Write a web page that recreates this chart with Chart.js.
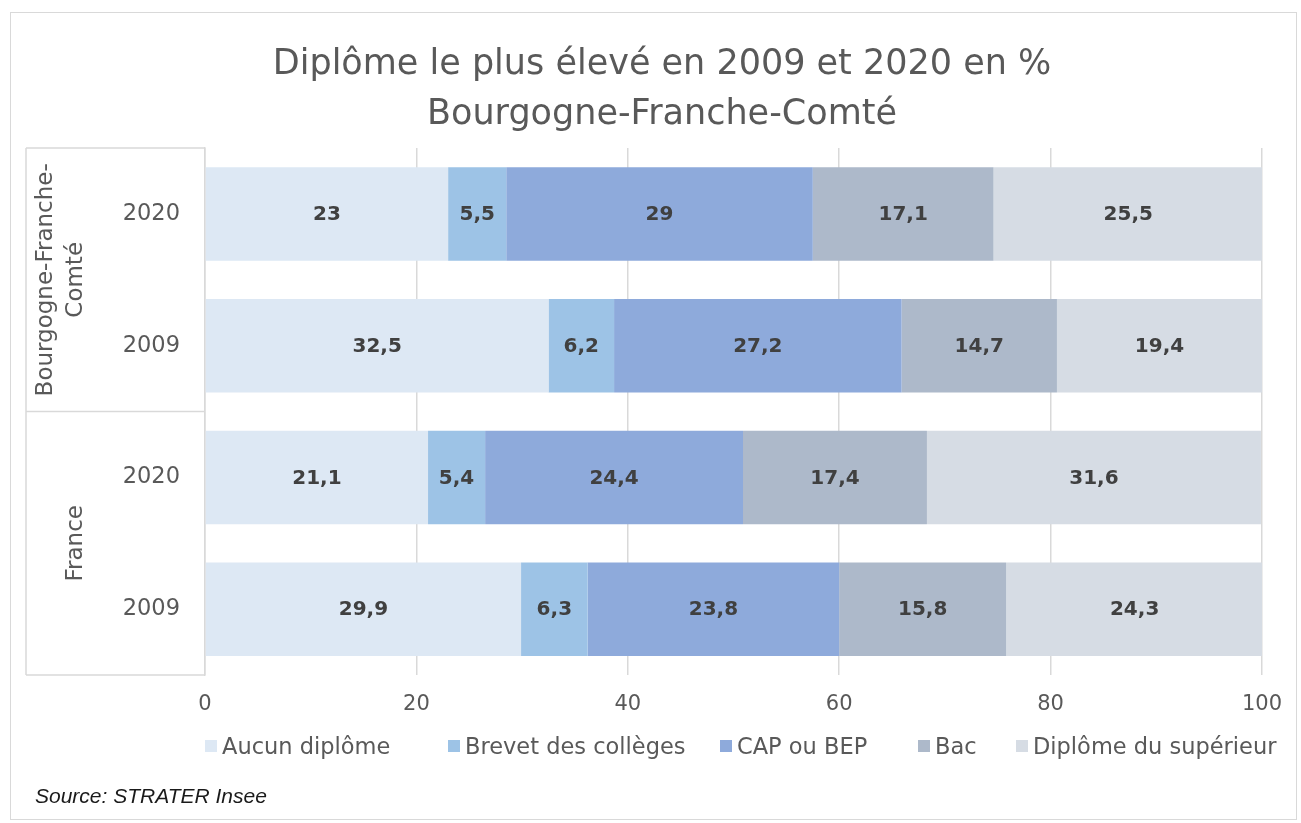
<!DOCTYPE html>
<html lang="fr">
<head>
<meta charset="utf-8">
<title>Diplôme le plus élevé en 2009 et 2020</title>
<script src="https://cdn.jsdelivr.net/npm/chart.js@4.4.1/dist/chart.umd.min.js"></script>
<style>
    html, body { margin: 0; padding: 0; background: #fff; }
    #wrap { position: relative; width: 1301px; height: 823px; overflow: hidden; }
    #frame { position: absolute; left: 10px; top: 12px; width: 1287px; height: 808px; border: 1.5px solid #d9d9d9; box-sizing: border-box; }
    #chart { position: absolute; left: 0; top: 0; }
    .leg { position: absolute; top: 733px; font: 22.5px "DejaVu Sans", sans-serif; color: #595959; white-space: nowrap; }
    .leg i { display: inline-block; width: 12px; height: 12px; margin-right: 5px; vertical-align: 2px; }
    #source { position: absolute; left: 35px; top: 784px; font: italic 21px "Liberation Sans", sans-serif; color: #1a1a1a; }
</style>
</head>
<body>
<div id="wrap">
    <div id="frame"></div>
    <canvas id="chart" width="1301" height="823"></canvas>
    <div id="legend"></div>
    <div id="source">Source: STRATER Insee</div>
</div>
<script>
// Données
const years = ['2020', '2009', '2020', '2009'];
const groups = [['Bourgogne-Franche-', 'Comté'], ['France']];
const seriesNames = ['Aucun diplôme', 'Brevet des collèges', 'CAP ou BEP', 'Bac', 'Diplôme du supérieur'];
const aucunDiplome = [23, 32.5, 21.1, 29.9];
const brevet = [5.5, 6.2, 5.4, 6.3];
const capBep = [29, 27.2, 24.4, 23.8];
const bac = [17.1, 14.7, 17.4, 15.8];
const superieur = [25.5, 19.4, 31.6, 24.3];
const xTicks = [0, 20, 40, 60, 80, 100];

const colors = ['#dde8f4', '#9dc3e6', '#8eaadb', '#adb9ca', '#d6dce4'];
const legendLeft = [205, 448, 720, 918, 1016];
const txtColor = '#595959';
const font = '"DejaVu Sans", sans-serif';

/**
 * Format décimal à la française
 */
function formatValue(v) {
    return String(v).replace('.', ',');
}

// Étiquettes de valeur au centre des barres
const valueLabels = {
    id: 'valueLabels',
    afterDatasetsDraw(chart) {
        const ctx = chart.ctx;
        ctx.save();
        ctx.font = 'bold 20px ' + font;
        ctx.fillStyle = '#404040';
        ctx.textAlign = 'center';
        ctx.textBaseline = 'middle';
        chart.data.datasets.forEach((ds, i) => {
            chart.getDatasetMeta(i).data.forEach((bar, j) => {
                ctx.fillText(formatValue(ds.data[j]), (bar.x + bar.base) / 2, bar.y + 1);
            });
        });
        ctx.restore();
    }
};

// Axe à deux niveaux (territoire / année)
const groupAxis = {
    id: 'groupAxis',
    afterDraw(chart) {
        const ctx = chart.ctx;
        const y = chart.scales.y;
        const area = chart.chartArea;
        const x0 = 26;
        const mid = (y.getPixelForValue(1) + y.getPixelForValue(2)) / 2;
        ctx.save();
        ctx.strokeStyle = '#d9d9d9';
        ctx.lineWidth = 1.5;
        ctx.beginPath();
        [area.top, mid, area.bottom].forEach(py => {
            ctx.moveTo(x0, py);
            ctx.lineTo(area.left, py);
        });
        ctx.moveTo(x0, area.top);
        ctx.lineTo(x0, area.bottom);
        ctx.stroke();

        ctx.font = '23px ' + font;
        ctx.fillStyle = txtColor;
        ctx.textAlign = 'center';
        ctx.textBaseline = 'middle';
        const spans = [[area.top, mid], [mid, area.bottom]];
        groups.forEach((lines, g) => {
            const cy = (spans[g][0] + spans[g][1]) / 2;
            const n = lines.length;
            lines.forEach((line, k) => {
                const cx = 76 - (n - 1 - k) * 30;
                ctx.save();
                ctx.translate(cx, cy);
                ctx.rotate(-Math.PI / 2);
                ctx.fillText(line, 0, 0);
                ctx.restore();
            });
        });
        ctx.restore();
    }
};

const seriesData = [aucunDiplome, brevet, capBep, bac, superieur];

new Chart(document.getElementById('chart'), {
    type: 'bar',
    data: {
        labels: years,
        datasets: seriesNames.map((name, i) => ({
            label: name,
            data: seriesData[i],
            backgroundColor: colors[i],
            borderWidth: 0,
            barPercentage: 0.71,
            categoryPercentage: 1
        }))
    },
    options: {
        indexAxis: 'y',
        responsive: false,
        animation: false,
        layout: { padding: { left: 62, right: 39, top: 0, bottom: 88 } },
        plugins: {
            legend: { display: false },
            tooltip: { enabled: false },
            title: {
                display: true,
                text: ['Diplôme le plus élevé en 2009 et 2020 en %', 'Bourgogne-Franche-Comté'],
                color: txtColor,
                font: { family: font, size: 35, weight: 'normal', lineHeight: 1.43 },
                padding: { top: 40, bottom: 8 }
            }
        },
        scales: {
            x: {
                stacked: true,
                min: 0,
                max: 100,
                afterBuildTicks(axis) {
                    axis.ticks = xTicks.map(v => ({ value: v }));
                },
                afterFit(axis) { axis.height = 60; },
                grid: { color: '#d9d9d9', lineWidth: 1.5, drawTicks: false },
                border: { display: false },
                ticks: { color: txtColor, font: { family: font, size: 21 }, padding: 17 }
            },
            y: {
                stacked: true,
                afterFit(axis) { axis.width = 143; },
                grid: { display: false, drawTicks: false },
                border: { display: true, color: '#d9d9d9', width: 1.5 },
                ticks: { color: txtColor, font: { family: font, size: 22.5 }, padding: 25 }
            }
        }
    },
    plugins: [valueLabels, groupAxis]
});

// Légende HTML
const legend = document.getElementById('legend');
seriesNames.forEach((name, i) => {
    const item = document.createElement('div');
    item.className = 'leg';
    item.style.left = legendLeft[i] + 'px';
    item.innerHTML = `<i style="background:${colors[i]}"></i>${name}`;
    legend.appendChild(item);
});
</script>
</body>
</html>
